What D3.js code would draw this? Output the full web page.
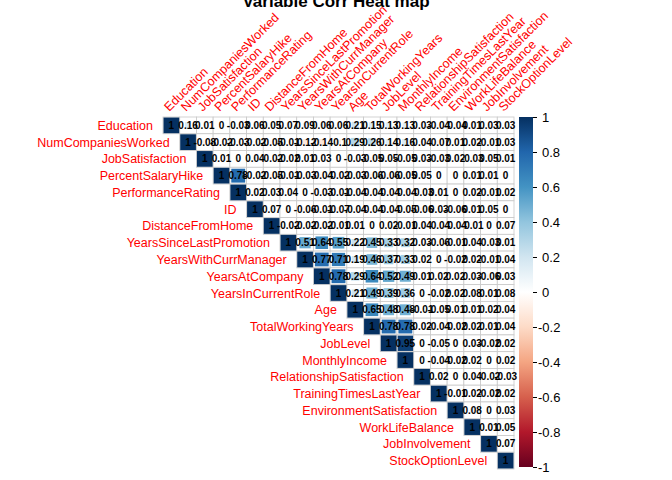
<!DOCTYPE html>
<html><head><meta charset="utf-8">
<script src="https://cdn.jsdelivr.net/npm/d3@7"></script>
<style>body{margin:0;background:#fff}</style>
</head><body>
<svg id="chart" width="672" height="480"></svg>
<script>
var vars = ["Education","NumCompaniesWorked","JobSatisfaction","PercentSalaryHike","PerformanceRating","ID","DistanceFromHome","YearsSinceLastPromotion","YearsWithCurrManager","YearsAtCompany","YearsInCurrentRole","Age","TotalWorkingYears","JobLevel","MonthlyIncome","RelationshipSatisfaction","TrainingTimesLastYear","EnvironmentSatisfaction","WorkLifeBalance","JobInvolvement","StockOptionLevel"];

// upper triangle, each row starts at the diagonal
var corrRows = [
  [1,0.16,0.01,0,-0.03,0.06,0.05,0.07,0.09,0.06,0.06,0.21,0.15,0.13,0.13,0.03,-0.04,-0.04,0.01,0.03,0.03],
  [1,-0.08,-0.02,-0.03,-0.02,-0.05,-0.01,-0.12,-0.14,-0.1,0.29,0.26,0.14,0.16,0.04,-0.07,0.01,0.02,-0.01,0.03],
  [1,0.01,0,0.04,-0.02,-0.02,0.01,0.03,0,-0.03,-0.05,0.05,-0.05,0.03,-0.03,0.02,-0.03,0.05,0.01],
  [1,0.78,-0.02,-0.05,-0.01,-0.03,-0.04,-0.02,-0.03,-0.06,-0.06,-0.05,0.05,0,0,0.01,0.01,0],
  [1,0.02,0.03,0.04,0,-0.03,-0.01,-0.04,-0.04,-0.04,-0.04,-0.03,0.01,0,0.02,-0.01,0.02],
  [1,0.07,0,-0.06,-0.01,-0.07,-0.04,-0.04,-0.04,-0.05,-0.06,0.03,-0.06,0.01,0.05,0],
  [1,-0.02,-0.02,-0.02,-0.01,0.01,0,0.02,-0.01,0.04,-0.04,-0.04,-0.01,0,0.07],
  [1,0.51,0.64,0.55,0.22,0.45,0.33,0.32,0.03,-0.06,-0.01,0.04,-0.03,0.01],
  [1,0.77,0.71,0.19,0.46,0.37,0.33,0.02,0,-0.02,0.02,-0.01,0.04],
  [1,0.78,0.29,0.64,0.52,0.49,0.01,0.02,0.02,0.03,-0.06,0.03],
  [1,0.21,0.49,0.39,0.36,0,-0.02,0.02,0.08,0.01,0.08],
  [1,0.65,0.48,0.48,-0.01,-0.05,0.01,0.01,0.02,0.04],
  [1,0.78,0.78,0.02,-0.04,-0.02,0.02,0.01,0.04],
  [1,0.95,0,-0.05,0,0.03,-0.02,0.02],
  [1,0,-0.04,-0.02,0.02,0,0.02],
  [1,0.02,0,0.04,-0.02,-0.03],
  [1,-0.01,0.02,-0.02,0.02],
  [1,0.08,0,0.03],
  [1,0.01,0.05],
  [1,0.07],
  [1]
];
var legendTicks = [1,0.8,0.6,0.4,0.2,0,-0.2,-0.4,-0.6,-0.8,-1];
var palette = ["#67001F","#B2182B","#D6604D","#F4A582","#FDDBC7","#FFFFFF","#D1E5F0","#92C5DE","#4393C3","#2166AC","#053061"];

var svg = d3.select("#chart");
var font = "Liberation Sans, Arial, sans-serif";
var x = d3.scaleBand().domain(vars).range([163, 514]);
var y = d3.scaleBand().domain(vars).range([117, 469]);
var bw = x.bandwidth(), bh = y.bandwidth();
var color = d3.scaleLinear().domain(d3.range(11).map(function (i) { return -1 + i * 0.2; })).range(palette);

var cells = [];
corrRows.forEach(function (row, i) {
  row.forEach(function (v, k) { cells.push({r: vars[i], c: vars[i + k], v: v}); });
});

svg.append("text").attr("x", 336).attr("y", 7).attr("text-anchor", "middle")
  .attr("font-family", font).attr("font-weight", "bold").attr("font-size", 17).text("Variable Corr Heat map");

// grid background
svg.append("g").selectAll("rect").data(cells).join("rect")
  .attr("x", function (d) { return x(d.c); }).attr("y", function (d) { return y(d.r); })
  .attr("width", bw).attr("height", bh).attr("fill", "#fff").attr("stroke", "#c8c8c8").attr("stroke-width", 0.8);

// squares sized by |r|
svg.append("g").selectAll("rect").data(cells).join("rect")
  .each(function (d) {
    var s = Math.sqrt(Math.abs(d.v)) * (bw - 1);
    d3.select(this).attr("x", x(d.c) + (bw - s) / 2).attr("y", y(d.r) + (bh - s) / 2)
      .attr("width", s).attr("height", s);
  })
  .attr("fill", function (d) { return color(d.v); });

svg.append("g").selectAll("text").data(cells).join("text")
  .attr("x", function (d) { return x(d.c) + bw / 2; }).attr("y", function (d) { return y(d.r) + bh / 2 + 3.5; })
  .attr("text-anchor", "middle").attr("font-family", font).attr("font-weight", "bold").attr("font-size", 10)
  .attr("fill", "#000").text(function (d) { return String(d.v); });

// row labels
svg.append("g").selectAll("text").data(vars).join("text")
  .attr("x", function (d) { return x(d) - 10; }).attr("y", function (d) { return y(d) + bh / 2 + 4.5; })
  .attr("text-anchor", "end").attr("font-family", font).attr("font-size", 12.5).attr("fill", "red").text(function (d) { return d; });

// column labels
svg.append("g").selectAll("text").data(vars).join("text")
  .attr("transform", function (d) { return "translate(" + (x(d) + bw / 2 - 2) + "," + 112 + ") rotate(-45)"; })
  .attr("font-family", font).attr("font-size", 12.5).attr("fill", "red").text(function (d) { return d; });

// colour bar
var ly = d3.scaleLinear().domain([1, -1]).range([117, 467]);
var grad = svg.append("defs").append("linearGradient").attr("id", "cb").attr("x1", 0).attr("x2", 0).attr("y1", 0).attr("y2", 1);
palette.slice().reverse().forEach(function (c, i) { grad.append("stop").attr("offset", i / 10).attr("stop-color", c); });
svg.append("rect").attr("x", 519).attr("y", 117).attr("width", 14).attr("height", 350).attr("fill", "url(#cb)");
var leg = svg.append("g").attr("transform", "translate(533,0)")
  .call(d3.axisRight(ly).tickValues(legendTicks).tickSize(4).tickFormat(function (d) { return String(+d.toFixed(1)); }));
leg.select(".domain").remove();
leg.selectAll("text").attr("font-family", font).attr("font-size", 13).attr("x", function (d) { return d >= 0 ? 9 : 5; });
</script>
</body></html>
